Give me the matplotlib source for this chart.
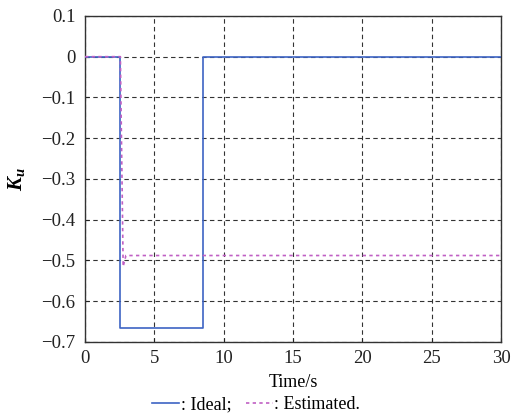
import matplotlib
matplotlib.use("Agg")
import matplotlib.pyplot as plt
from matplotlib.lines import Line2D

plt.rcParams["font.family"] = ["Liberation Serif", "DejaVu Serif"]
plt.rcParams["mathtext.fontset"] = "custom"
plt.rcParams["mathtext.it"] = "Liberation Serif:italic:bold"
plt.rcParams["mathtext.rm"] = "Liberation Serif"

# step signals, time in s
ideal_t = [0, 2.5, 2.5, 8.5, 8.5, 30]
ideal_k = [0, 0, -0.667, -0.667, 0, 0]

est_t = [0, 2.55, 2.75, 2.95, 30]
est_k = [0, 0, -0.515, -0.488, -0.488]

x_ticks = [0, 5, 10, 15, 20, 25, 30]
y_ticks = [0.1, 0, -0.1, -0.2, -0.3, -0.4, -0.5, -0.6, -0.7]
y_labels = ["0.1", "0", "\u22120.1", "\u22120.2", "\u22120.3",
            "\u22120.4", "\u22120.5", "\u22120.6", "\u22120.7"]

blue = "#3d64c4"
pink = "#c060c4"

fig = plt.figure(figsize=(5.12, 4.19), dpi=100)
ax = fig.add_axes([0.166, 0.184, 0.813, 0.778])

ax.plot(ideal_t, ideal_k, color=blue, linewidth=1.2, zorder=3)
ax.plot(est_t, est_k, color=pink, linewidth=1.2, linestyle=(0, (2, 2)), zorder=4)

ax.set_xlim(0, 30)
ax.set_ylim(-0.7, 0.1)
ax.set_xticks(x_ticks)
ax.set_yticks(y_ticks)
ax.set_yticklabels(y_labels)
ax.tick_params(direction="in", labelsize=13.5, length=3, colors="#222222")
ax.tick_params(axis="y", pad=7)
ax.tick_params(axis="x", pad=6)

ax.grid(True, color="#333333", linestyle=(0, (4, 3)), linewidth=0.8)
for s in ax.spines.values():
    s.set_color("#333333")
    s.set_linewidth(1.0)

ax.set_xlabel("Time/s", fontsize=13, labelpad=5)
ax.set_ylabel("$K_u$", fontsize=15, labelpad=10)

handles = [
    Line2D([], [], color=blue, linewidth=1.2),
    Line2D([], [], color=pink, linewidth=1.2, linestyle=(0, (2, 2))),
]
fig.legend(handles, [": Ideal;", ": Estimated."], loc="lower center",
           bbox_to_anchor=(0.5, -0.025), ncol=2, frameon=False,
           fontsize=13, handlelength=1.5, handletextpad=0.1,
           columnspacing=0.8)

fig.savefig("out.png", dpi=100)
